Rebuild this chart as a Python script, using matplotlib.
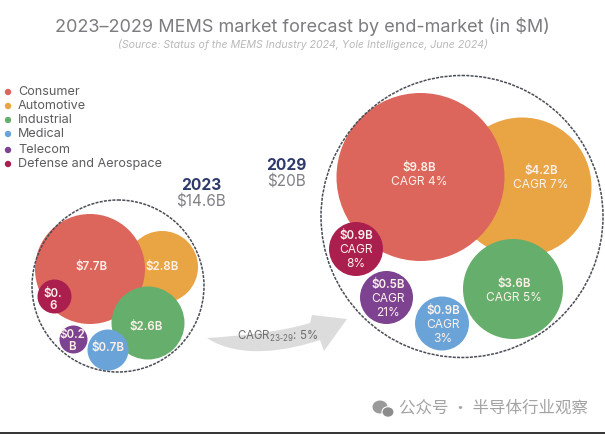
import matplotlib
matplotlib.use("Agg")
import matplotlib.pyplot as plt
from matplotlib.patches import Circle, Ellipse, PathPatch
from matplotlib.path import Path

plt.rcParams["font.family"] = ["Inter", "Noto Sans CJK SC", "DejaVu Sans"]
plt.rcParams["mathtext.default"] = "regular"

# ── Dados ──────────────────────────────────────────────────────────────────────

SEGMENTS = ["Consumer", "Automotive", "Industrial", "Medical", "Telecom", "Defense and Aerospace"]
COLORS = ["#dd665c", "#e9a444", "#66ae6c", "#6aa3d8", "#7d4391", "#ab1f4e"]

LABELS_2023 = ["$7.7B", "$2.8B", "$2.6B", "$0.7B", "$0.2\nB", "$0.\n6"]
LABELS_2029 = ["$9.8B\nCAGR 4%", "$4.2B\nCAGR 7%", "$3.6B\nCAGR 5%",
               "$0.9B\nCAGR\n3%", "$0.5B\nCAGR\n21%", "$0.9B\nCAGR\n8%"]

# bubble layout, in pixels
X_2023 = [90, 162, 148, 108, 73.5, 54.5]
Y_2023 = [269, 267, 323, 350, 339.5, 296.5]
R_2023 = [55, 36, 36.5, 20.5, 14, 17]
LX_2023 = [92, 162, 146, 108, 72, 53]
LY_2023 = [267, 267, 327, 348, 341, 300]

X_2029 = [420.5, 522, 513, 442, 386.5, 356]
Y_2029 = [177, 187, 289, 323.5, 297.5, 249]
R_2029 = [84, 69.5, 50, 27, 26.5, 27]
LX_2029 = [419, 541, 514, 443, 388, 356]
LY_2029 = [175, 178, 291, 325, 299, 250]


def draw_bubbles(ax, xs, ys, rs, lx, ly, labels, outer, fs):
    # largest first so small ones stay on top
    for i in [1, 0, 2, 3, 4, 5]:
        ax.add_patch(Circle((xs[i], ys[i]), rs[i], fc=COLORS[i], ec="none", zorder=2))
    ax.add_patch(Circle(outer[:2], outer[2], fc="none", ec="#4a4d55", lw=1.1,
                        ls=(0, (2.0, 0.8)), zorder=3))
    for i, lab in enumerate(labels):
        lines = lab.split("\n")
        step = 14 if "CAGR" in lab else 12.5
        y0 = ly[i] - step * (len(lines) - 1) / 2
        for j, line in enumerate(lines):
            bold = j == 0 or "CAGR" not in lab
            ax.text(lx[i], y0 + j * step, line, color="#fdf1ea", va="center", ha="center",
                    fontsize=fs if bold else fs + 0.3,
                    fontweight="semibold" if bold else "normal", zorder=4)


# ── Figura ─────────────────────────────────────────────────────────────────────

fig = plt.figure(figsize=(6.05, 4.34), dpi=100)
ax = fig.add_axes([0, 0, 1, 1])
ax.set_xlim(0, 605)
ax.set_ylim(434, 0)
ax.axis("off")

ax.text(302, 27, "2023–2029 MEMS market forecast by end-market (in $M)",
        fontsize=13.0, color="#7c7c80", ha="center", va="center")
ax.text(303, 45, "(Source: Status of the MEMS Industry 2024, Yole Intelligence, June 2024)",
        fontsize=7.6, color="#b9b9bc", ha="center", va="center", style="italic")

# legenda
legend_y = [92, 106, 120, 134, 150, 164]
for name, col, y in zip(SEGMENTS, COLORS, legend_y):
    ax.add_patch(Circle((8, y), 3.2, fc=col, ec="none"))
    ax.text(18, y, name, fontsize=9.1, color="#5c5c60", va="center")

draw_bubbles(ax, X_2023, Y_2023, R_2023, LX_2023, LY_2023, LABELS_2023, (118, 286, 86), 8.3)
draw_bubbles(ax, X_2029, Y_2029, R_2029, LX_2029, LY_2029, LABELS_2029, (462, 216.5, 141), 8.3)

ax.text(201, 185, "2023", fontsize=11.2, color="#2e3a6b", ha="center", va="center", fontweight="bold")
ax.text(201, 202, "$14.6B", fontsize=11, color="#808186", ha="center", va="center")
ax.text(286, 166, "2029", fontsize=11.2, color="#2e3a6b", ha="center", va="center", fontweight="bold")
ax.text(286, 182, "$20B", fontsize=11, color="#808186", ha="center", va="center")

# seta curva
arrow_path = Path(
    [(207, 338), (240, 336), (280, 332), (310, 323), (312, 315), (347, 319), (324, 351),
     (320, 340), (290, 350), (240, 360), (207, 338), (207, 338)],
    [Path.MOVETO, Path.CURVE4, Path.CURVE4, Path.CURVE4, Path.LINETO, Path.LINETO, Path.LINETO,
     Path.LINETO, Path.CURVE4, Path.CURVE4, Path.CURVE4, Path.CLOSEPOLY],
)
ax.add_patch(PathPatch(arrow_path, fc="#dcdcdc", ec="none", zorder=1))
ax.text(237, 336, "CAGR$_{23\\text{-}29}$: 5%", fontsize=8.3, color="#6f6f73", va="center", zorder=2)

# marca d'água
ax.add_patch(Ellipse((380, 407), 15, 13, fc="#9a9a9a", ec="none"))
ax.add_patch(Ellipse((388, 412), 12, 10.5, fc="#8c8c8c", ec="white", lw=0.8))
ax.text(399, 408, "公众号 · 半导体行业观察", fontsize=11.9, color="#a3a3a3", va="center",
        family=["Noto Sans CJK SC", "DejaVu Sans"])

ax.plot([0, 605], [433, 433], color="#111111", lw=1.2, clip_on=False)

fig.savefig("out.png", dpi=100)
plt.close(fig)
